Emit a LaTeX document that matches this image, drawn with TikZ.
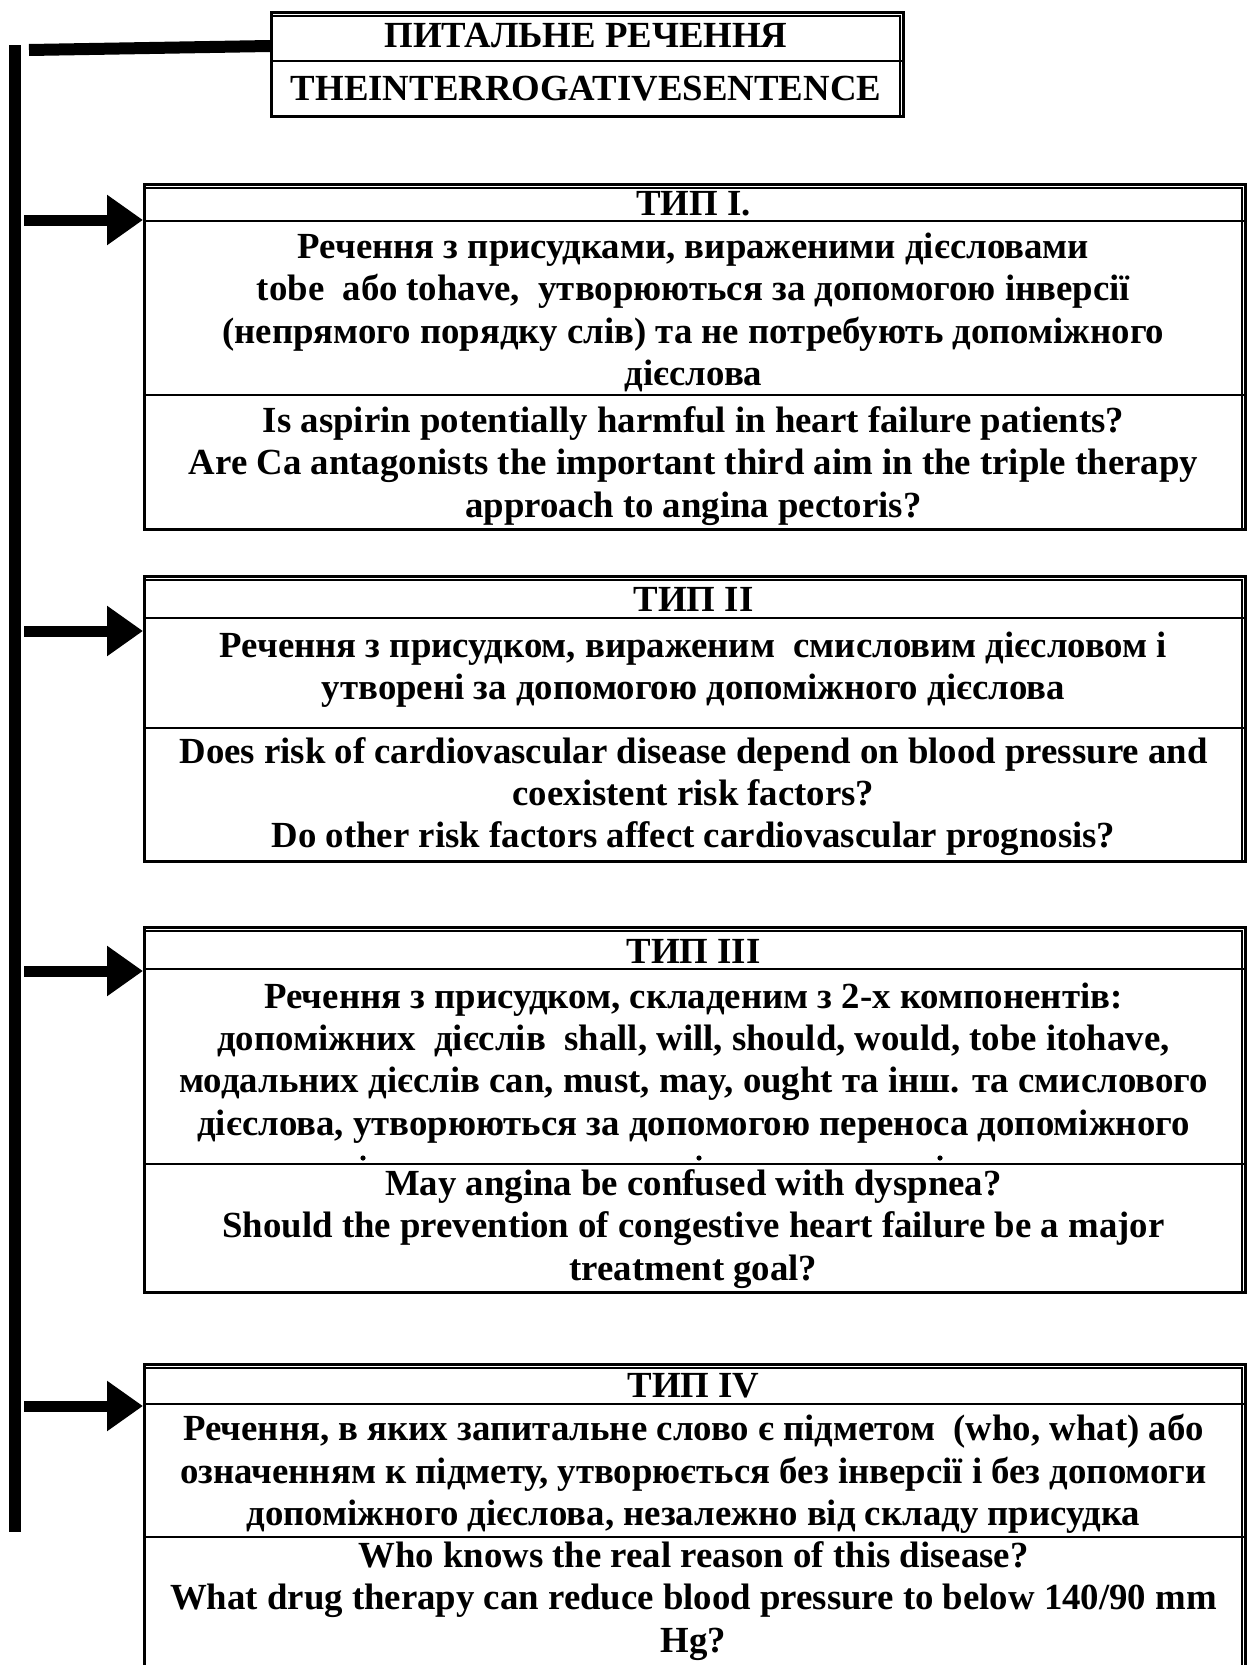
\documentclass[tikz,border=0pt]{standalone}
\usepackage{fontspec}
\setmainfont{Liberation Serif}
\usetikzlibrary{arrows.meta}
\begin{document}
\begin{tikzpicture}[x=1pt,y=-1pt,
  frame/.style={draw, line width=3pt, rectangle, inner sep=0pt, anchor=north west},
  rule/.style={line width=2.4pt},
  innerline/.style={line width=1.3pt},
  txt/.style={font=\fontsize{36.8}{42.3}\selectfont\bfseries, align=center, inner sep=0pt},
  link/.style={line width=11pt, -{Triangle[length=36pt 0 0, width=48pt 0 0]}},
  bar/.style={line width=12pt},
]
\useasboundingbox (0,0) rectangle (1247,1665);
\clip (0,0) rectangle (1247,1665);

% spine and top bar
\coordinate (sTop) at (15,45);
\coordinate (sBot) at (15,1532);
\draw[bar] (sTop) -- (sBot);

% title box
\node[frame, minimum width=632pt, minimum height=104pt] (t0) at (270,11) {};
\draw[rule] (270,61) -- (902,61);
\draw[innerline] ([yshift=-5pt]t0.north west) -- ([xshift=-5pt,yshift=-5pt]t0.north east) -- ([xshift=-5pt]t0.south east);
\node[txt] (t1) at (586,36) {ПИТАЛЬНЕ РЕЧЕННЯ};
\node[txt] (t2) at (586,89) {THEINTERROGATIVESENTENCE};
\coordinate (tb) at (29,50);
\coordinate (te) at (270,46);
\draw[bar] (tb) -- (te);

% box I
\node[frame, minimum width=1101pt, minimum height=345pt] (b1) at (143,183) {};
\draw[rule] (143,221) -- (1244,221);
\draw[rule] (143,395) -- (1244,395);
\draw[innerline] ([yshift=-5pt]b1.north west) -- ([xshift=-5pt,yshift=-5pt]b1.north east) -- ([xshift=-5pt]b1.south east);
\node[txt] (h1) at (693.5,204) {ТИП I.};
\node[txt] (d1) at (693.5,312.5) {Речення з присудками, вираженими дієсловами\\
tobe\ \ або tohave,\ \ утворюються за допомогою інверсії\\
(непрямого порядку слів) та не потребують допоміжного\\
дієслова};
\node[txt] (e1) at (693.5,466) {Is aspirin potentially harmful in heart failure patients?\\
Are Ca antagonists the important third aim in the triple therapy\\
approach to angina pectoris?};

% box II
\node[frame, minimum width=1101pt, minimum height=285pt] (b2) at (143,575) {};
\draw[rule] (143,618) -- (1244,618);
\draw[rule] (143,728) -- (1244,728);
\draw[innerline] ([yshift=-5pt]b2.north west) -- ([xshift=-5pt,yshift=-5pt]b2.north east) -- ([xshift=-5pt]b2.south east);
\node[txt] (h2) at (693.5,599.5) {ТИП II};
\node[txt] (d2) at (693.5,669.5) {Речення з присудком, вираженим\ \ смисловим дієсловом і\\
утворені за допомогою допоміжного дієслова};
\node[txt] (e2) at (693.5,796.5) {Does risk of cardiovascular disease depend on blood pressure and\\
coexistent risk factors?\\
Do other risk factors affect cardiovascular prognosis?};

% box III
\node[frame, minimum width=1101pt, minimum height=365pt] (b3) at (143,926) {};
\draw[rule] (143,969) -- (1244,969);
\draw[rule] (143,1164) -- (1244,1164);
\draw[innerline] ([yshift=-5pt]b3.north west) -- ([xshift=-5pt,yshift=-5pt]b3.north east) -- ([xshift=-5pt]b3.south east);
\node[txt] (h3) at (693.5,951.5) {ТИП III};
\node[txt] (d3) at (693.5,1063) {Речення з присудком, складеним з 2-х компонентів:\\
допоміжних\ \ дієслів\ \ shall, will, should, would, tobe itohave,\\
модальних дієслів can, must, may, ought та інш. та смислового\\
дієслова, утворюються за допомогою переноса допоміжного};
\fill (363,1158) circle (2.6pt);
\fill (699,1158) circle (2.6pt);
\fill (940,1158) circle (2.6pt);
\node[txt] (e3) at (693.5,1229) {May angina be confused with dyspnea?\\
Should the prevention of congestive heart failure be a major\\
treatment goal?};

% box IV
\node[frame, minimum width=1101pt, minimum height=340pt] (b4) at (143,1363) {};
\draw[rule] (143,1404) -- (1244,1404);
\draw[rule] (143,1537) -- (1244,1537);
\draw[innerline] ([yshift=-5pt]b4.north west) -- ([xshift=-5pt,yshift=-5pt]b4.north east) -- ([xshift=-5pt]b4.south east);
\node[txt] (h4) at (693.5,1385.5) {ТИП IV};
\node[txt] (d4) at (693.5,1474) {Речення, в яких запитальне слово є підметом\ \ (who, what) або\\
означенням к підмету, утворюється без інверсії і без допомоги\\
допоміжного дієслова, незалежно від складу присудка};
\node[txt] (e4) at (693.5,1601) {Who knows the real reason of this disease?\\
What drug therapy can reduce blood pressure to below 140/90 mm\\
Hg?};

% arrows
\coordinate (a1) at (24,220);
\coordinate (a2) at (24,631);
\coordinate (a3) at (24,971);
\coordinate (a4) at (24,1406);
\draw[link] (a1) -- (a1 -| b1.west);
\draw[link] (a2) -- (a2 -| b2.west);
\draw[link] (a3) -- (a3 -| b3.west);
\draw[link] (a4) -- (a4 -| b4.west);
\end{tikzpicture}
\end{document}
